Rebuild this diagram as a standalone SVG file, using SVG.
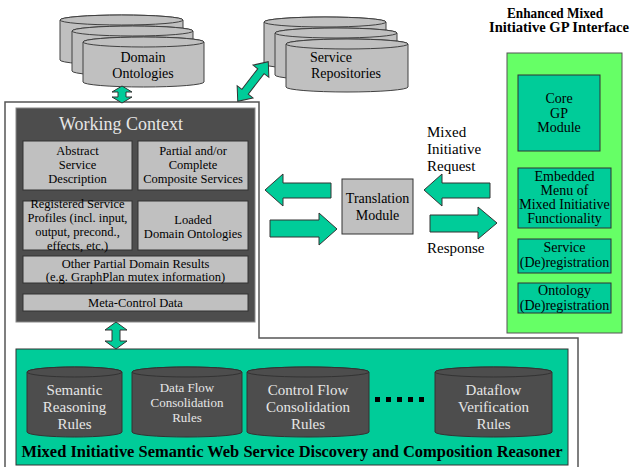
<svg xmlns="http://www.w3.org/2000/svg" width="630" height="467" viewBox="0 0 630 467">
<defs>
<style>
text{font-family:"Liberation Serif","Times New Roman",serif;text-anchor:middle;}
.cyl{fill:#c0c0c0;stroke:#404040;stroke-width:1;}
.dcyl{fill:#4d4d4d;stroke:#333;stroke-width:1;}
.gbox{fill:#c0c0c0;stroke:#333;stroke-width:1;}
.tbox{fill:#00cc99;stroke:#333;stroke-width:1;}
.arr{fill:#00cc99;stroke:#333;stroke-width:1;}
.t12{font-size:12.5px;fill:#000;}
.t14{font-size:14px;fill:#000;}
.w15{font-size:15px;fill:#e6e6e6;}
.w13{font-size:13px;fill:#e6e6e6;}
</style>
</defs>
<rect width="630" height="467" fill="#fff"/>

<!-- outer frame -->
<path d="M5,470 V102 H259 V338 H578 V470" fill="none" stroke="#555" stroke-width="1.5"/>

<g id="domain-ontologies">
<path class="cyl" d="M60,20 A61.5,5 0 0 1 183,20 V60 A61.5,5 0 0 1 60,60 Z"/>
<ellipse class="cyl" cx="121.5" cy="20" rx="61.5" ry="5"/>
<path class="cyl" d="M72,31 A60.5,5 0 0 1 193,31 V71 A60.5,5 0 0 1 72,71 Z"/>
<ellipse class="cyl" cx="132.5" cy="31" rx="60.5" ry="5"/>
<path class="cyl" d="M83,42 A60.5,5 0 0 1 204,42 V82 A60.5,5 0 0 1 83,82 Z"/>
<ellipse class="cyl" cx="143.5" cy="42" rx="60.5" ry="5"/>
<text class="t14" x="143" y="62">Domain</text>
<text class="t14" x="143" y="78">Ontologies</text>
</g>

<g id="service-repositories">
<path class="cyl" d="M264,22 A61,5 0 0 1 386,22 V64 A61,5 0 0 1 264,64 Z"/>
<ellipse class="cyl" cx="325" cy="22" rx="61" ry="5"/>
<path class="cyl" d="M275,33 A61,5 0 0 1 397,33 V75 A61,5 0 0 1 275,75 Z"/>
<ellipse class="cyl" cx="336" cy="33" rx="61" ry="5"/>
<path class="cyl" d="M286,44 A61,5 0 0 1 408,44 V87 A61,5 0 0 1 286,87 Z"/>
<ellipse class="cyl" cx="347" cy="44" rx="61" ry="5"/>
<text class="t14" x="310" y="62" style="text-anchor:start">Service</text>
<text class="t14" x="346" y="78">Repositories</text>
</g>

<g id="working-context">
<rect x="16" y="108" width="239" height="214" fill="#4d4d4d" stroke="#888" stroke-width="1"/>
<text x="121" y="130" style="font-size:18px;fill:#e6e6e6">Working Context</text>
<g id="abstract-service">
<rect class="gbox" x="23" y="141" width="109" height="49"/>
<text class="t12" x="77.5" y="155">Abstract</text>
<text class="t12" x="77.5" y="169">Service</text>
<text class="t12" x="77.5" y="183">Description</text>
</g>
<g id="partial-composite">
<rect class="gbox" x="138" y="141" width="110" height="49"/>
<text class="t12" x="193" y="155">Partial and/or</text>
<text class="t12" x="193" y="169">Complete</text>
<text class="t12" x="193" y="183">Composite Services</text>
</g>
<g id="registered-profiles">
<rect class="gbox" x="23" y="201" width="109" height="49"/>
<text class="t12" x="77.5" y="208">Registered Service</text>
<text class="t12" x="77.5" y="222">Profiles (incl. input,</text>
<text class="t12" x="77.5" y="236">output, precond.,</text>
<text class="t12" x="77.5" y="250">effects, etc.)</text>
</g>
<g id="loaded-ontologies">
<rect class="gbox" x="138" y="201" width="110" height="49"/>
<text class="t12" x="193" y="224">Loaded</text>
<text class="t12" x="193" y="238">Domain Ontologies</text>
</g>
<g id="other-results">
<rect class="gbox" x="23" y="256" width="225" height="27"/>
<text class="t12" x="135.5" y="268">Other Partial Domain Results</text>
<text class="t12" x="135.5" y="281">(e.g. GraphPlan mutex information)</text>
</g>
<g id="meta-control">
<rect class="gbox" x="23" y="294" width="225" height="17"/>
<text class="t12" x="135.5" y="307">Meta-Control Data</text>
</g>
</g>

<g id="translation-module">
<rect class="gbox" x="342" y="179" width="71" height="55"/>
<text class="t14" x="377.5" y="203">Translation</text>
<text class="t14" x="377.5" y="220">Module</text>
</g>

<g id="gp-interface">
<text x="555" y="18" style="font-size:14px;font-weight:bold" textLength="96" lengthAdjust="spacingAndGlyphs">Enhanced Mixed</text>
<text x="559" y="32" style="font-size:14px;font-weight:bold" textLength="140" lengthAdjust="spacingAndGlyphs">Initiative GP Interface</text>
<rect x="507" y="53" width="115" height="280" fill="#66ff66" stroke="#555" stroke-width="1"/>
<g id="core-gp">
<rect class="tbox" x="518" y="75" width="82" height="76"/>
<text class="t14" x="559" y="103">Core</text>
<text class="t14" x="559" y="118">GP</text>
<text class="t14" x="559" y="132">Module</text>
</g>
<g id="embedded-menu">
<rect class="tbox" x="518" y="168" width="93" height="60"/>
<text class="t14" x="564.5" y="181">Embedded</text>
<text class="t14" x="564.5" y="195">Menu of</text>
<text class="t14" x="564.5" y="209">Mixed Initiative</text>
<text class="t14" x="564.5" y="223">Functionality</text>
</g>
<g id="service-dereg">
<rect class="tbox" x="518" y="239" width="93" height="34"/>
<text class="t14" x="564.5" y="252">Service</text>
<text class="t14" x="564.5" y="267">(De)registration</text>
</g>
<g id="ontology-dereg">
<rect class="tbox" x="518" y="283" width="93" height="30"/>
<text class="t14" x="564.5" y="295">Ontology</text>
<text class="t14" x="564.5" y="310">(De)registration</text>
</g>
</g>

<g id="reasoner">
<rect x="16" y="349" width="552" height="116" fill="#00cc99" stroke="#333" stroke-width="1"/>
<g id="semantic-reasoning">
<path class="dcyl" d="M27,372 A47.5,5 0 0 1 122,372 V432 A47.5,5 0 0 1 27,432 Z"/>
<ellipse class="dcyl" cx="74.5" cy="372" rx="47.5" ry="5"/>
<text class="w15" x="74.5" y="395">Semantic</text>
<text class="w15" x="74.5" y="412">Reasoning</text>
<text class="w15" x="74.5" y="429">Rules</text>
</g>
<g id="data-flow">
<path class="dcyl" d="M132,372 A55,5 0 0 1 242,372 V432 A55,5 0 0 1 132,432 Z"/>
<ellipse class="dcyl" cx="187" cy="372" rx="55" ry="5"/>
<text class="w13" x="187" y="392">Data Flow</text>
<text class="w13" x="187" y="407">Consolidation</text>
<text class="w13" x="187" y="422">Rules</text>
</g>
<g id="control-flow">
<path class="dcyl" d="M247,372 A61,5 0 0 1 369,372 V432 A61,5 0 0 1 247,432 Z"/>
<ellipse class="dcyl" cx="308" cy="372" rx="61" ry="5"/>
<text class="w15" x="308" y="395">Control Flow</text>
<text class="w15" x="308" y="412">Consolidation</text>
<text class="w15" x="308" y="429">Rules</text>
</g>
<g id="dots" fill="#000">
<rect x="375" y="397" width="5" height="5"/>
<rect x="386" y="397" width="5" height="5"/>
<rect x="397" y="397" width="5" height="5"/>
<rect x="408" y="397" width="5" height="5"/>
<rect x="419" y="397" width="5" height="5"/>
</g>
<g id="dataflow-verification">
<path class="dcyl" d="M435,372 A58.5,5 0 0 1 552,372 V432 A58.5,5 0 0 1 435,432 Z"/>
<ellipse class="dcyl" cx="493.5" cy="372" rx="58.5" ry="5"/>
<text class="w15" x="493.5" y="395">Dataflow</text>
<text class="w15" x="493.5" y="412">Verification</text>
<text class="w15" x="493.5" y="429">Rules</text>
</g>
<text x="292" y="457" style="font-size:16px;font-weight:bold" textLength="541" lengthAdjust="spacingAndGlyphs">Mixed Initiative Semantic Web Service Discovery and Composition Reasoner</text>
</g>

<g id="connectors">
<polygon class="arr" points="122,86 132,92 126,92 126,97 132,97 122,103 112,97 118,97 118,92 112,92"/>
<polygon class="arr" points="116,322 127,330 120,330 120,341 127,341 116,349 105,341 112,341 112,330 105,330"/>
<g transform="translate(253,81.5) rotate(-52.4)">
<polygon class="arr" points="-25,0 -13,-10 -13,-4 13,-4 13,-10 25,0 13,10 13,4 -13,4 -13,10"/>
</g>
<polygon class="arr" points="265,190 283,174 283,183 331,183 331,198 283,198 283,206"/>
<polygon class="arr" points="270,220 319,220 319,213 337,229 319,245 319,237 270,237"/>
<polygon class="arr" points="424,190 442,174 442,183 490,183 490,198 442,198 442,206"/>
<polygon class="arr" points="430,215 478,215 478,207 497,223 478,239 478,232 430,232"/>
</g>

<g id="labels">
<text class="t14" x="427" y="137" style="text-anchor:start;font-size:15px">Mixed</text>
<text class="t14" x="427" y="154" style="text-anchor:start;font-size:15px">Initiative</text>
<text class="t14" x="427" y="171" style="text-anchor:start;font-size:15px">Request</text>
<text class="t14" x="427" y="253" style="text-anchor:start;font-size:15px">Response</text>
</g>
</svg>
